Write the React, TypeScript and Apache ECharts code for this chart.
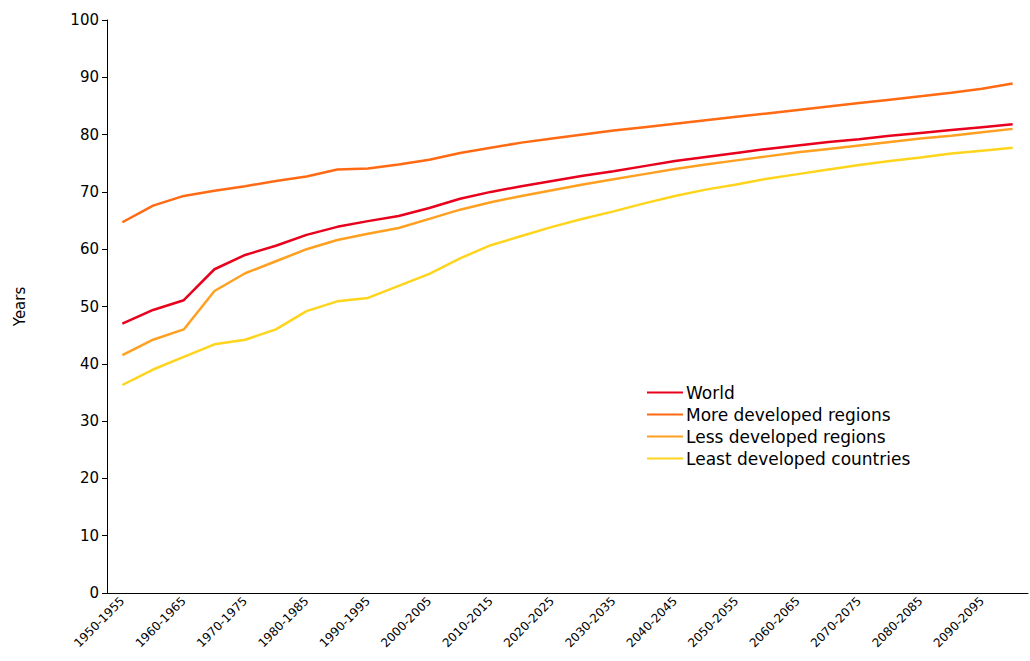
import React, { useEffect, useRef } from "react";
import * as echarts from "echarts";

const periods: string[] = [];
for (let y = 1950; y < 2100; y += 5) periods.push(`${y}-${y + 5}`);

const world = [47, 49.4, 51.1, 56.5, 59, 60.6, 62.5, 63.9, 64.9, 65.8, 67.2, 68.8, 70, 71, 71.9, 72.8, 73.6, 74.5, 75.4, 76.1, 76.8, 77.5, 78.1, 78.7, 79.2, 79.8, 80.3, 80.8, 81.3, 81.8];
const moreDev = [64.7, 67.6, 69.3, 70.2, 71, 71.9, 72.7, 73.9, 74.1, 74.8, 75.6, 76.8, 77.7, 78.6, 79.3, 80, 80.7, 81.3, 81.9, 82.5, 83.1, 83.7, 84.3, 84.9, 85.5, 86.1, 86.7, 87.3, 88, 88.9];
const lessDev = [41.5, 44.2, 46, 52.7, 55.8, 57.9, 60, 61.6, 62.7, 63.7, 65.3, 66.9, 68.2, 69.3, 70.3, 71.3, 72.2, 73.1, 74, 74.8, 75.5, 76.2, 76.9, 77.5, 78.1, 78.7, 79.3, 79.8, 80.4, 81];
const leastDev = [36.3, 39, 41.2, 43.4, 44.2, 46, 49.2, 50.9, 51.5, 53.6, 55.7, 58.4, 60.7, 62.3, 63.9, 65.3, 66.6, 68, 69.3, 70.4, 71.3, 72.3, 73.1, 73.9, 74.7, 75.4, 76, 76.7, 77.2, 77.7];

const names = ["World", "More developed regions", "Less developed regions", "Least developed countries"];
const colors = ["#e8001c", "#ff6a13", "#ffa020", "#ffd41c"];

export default function App() {
  const ref = useRef<HTMLDivElement>(null);
  useEffect(() => {
    document.body.style.margin = "0";
    const chart = echarts.init(ref.current!, null, { renderer: "svg" });
    const font = "DejaVu Sans, sans-serif";
    chart.setOption({
      animation: false,
      textStyle: { fontFamily: font },
      grid: { left: 107, right: 2, top: 20, bottom: 68 },
      legend: {
        orient: "vertical",
        left: 642,
        top: 379,
        itemGap: 5,
        itemWidth: 36,
        itemHeight: 2,
        icon: "rect",
        textStyle: { fontSize: 17, color: "#000", fontFamily: font, padding: [0, 0, 0, -2] },
        data: names,
      },
      xAxis: {
        type: "category",
        data: periods,
        axisLine: { lineStyle: { color: "#000" } },
        axisTick: { lineStyle: { color: "#000" } },
        axisLabel: { rotate: 45, interval: 1, color: "#000", fontSize: 12, fontFamily: font, margin: 6 },
      },
      yAxis: {
        type: "value",
        min: 0,
        max: 100,
        interval: 10,
        name: "Years",
        nameLocation: "middle",
        nameGap: 80,
        nameTextStyle: { color: "#000", fontSize: 15, fontFamily: font },
        axisLine: { show: true, lineStyle: { color: "#000" } },
        axisTick: { show: true, lineStyle: { color: "#000" } },
        splitLine: { show: false },
        axisLabel: { color: "#000", fontSize: 15, fontFamily: font },
      },
      series: [world, moreDev, lessDev, leastDev].map((d, i) => ({
        name: names[i],
        type: "line",
        data: d,
        showSymbol: false,
        lineStyle: { color: colors[i], width: 2.5 },
        itemStyle: { color: colors[i] },
      })),
    });
    return () => chart.dispose();
  }, []);
  return <div ref={ref} style={{ width: 1030, height: 661 }} />;
}
